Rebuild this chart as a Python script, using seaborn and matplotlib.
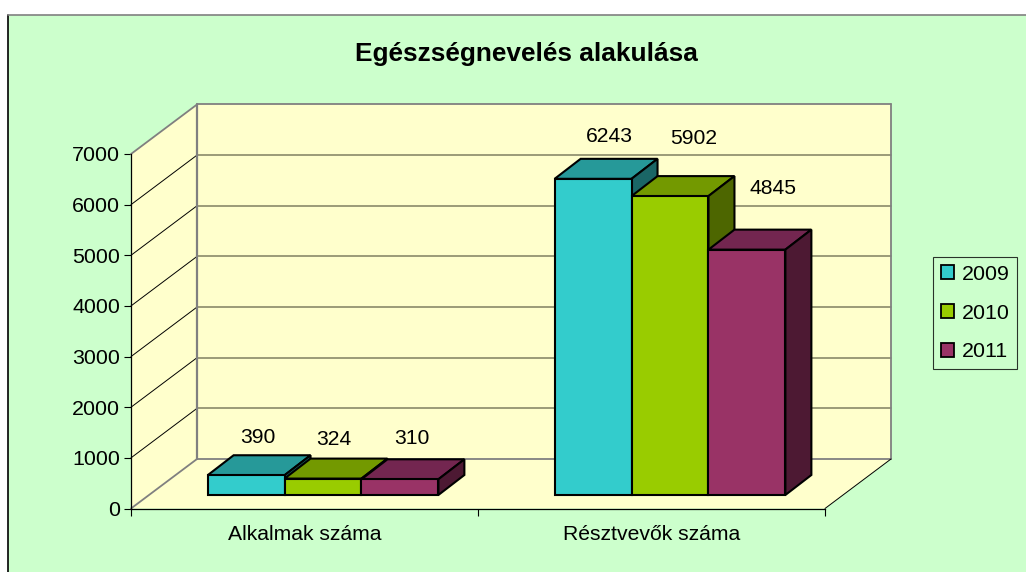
import numpy as np
import pandas as pd
import matplotlib
matplotlib.use('Agg')
import matplotlib.pyplot as plt
import matplotlib.transforms as mtransforms
from matplotlib.lines import Line2D
from matplotlib.patches import Patch, Polygon, Rectangle
import seaborn as sns

# adatok
categories = ['Alkalmak száma', 'Résztvevők száma']
years = ['2009', '2010', '2011']
values_2009 = [390, 6243]
values_2010 = [324, 5902]
values_2011 = [310, 4845]
y_ticks = [0, 1000, 2000, 3000, 4000, 5000, 6000, 7000]

front_colors = ['#33CCCC', '#99CC00', '#993366']
top_colors = ['#269999', '#739900', '#732650']
side_colors = ['#1A6666', '#4D6600', '#4D1933']

# eltolás a címke és az oszlop középpontja között, pixelben (x, y)
label_offsets = [[(12, 38), (11, 39), (12, 41)], [(16, 42), (24, 58), (26, 61)]]

W, H = 1026, 572
sns.set_theme(style='white')
plt.rcParams['font.family'] = ['Liberation Sans']
plt.rcParams['text.color'] = 'black'

df = pd.DataFrame({
    'category': categories * 3,
    'year': np.repeat(years, 2),
    'value': values_2009 + values_2010 + values_2011,
})

fig = plt.figure(figsize=(W / 100, H / 100), dpi=100, facecolor='white')
fig.add_artist(Rectangle((8 / W, 0), 1, 1 - 15 / H, transform=fig.transFigure,
                         facecolor='#CCFFCC', edgecolor='none', zorder=-5))
fig.add_artist(Line2D([8 / W, 8 / W], [0, 1 - 15 / H], color='black', lw=1.2))
fig.add_artist(Line2D([8 / W, 1], [1 - 15 / H, 1 - 15 / H], color='#808080', lw=1.2))

ax = fig.add_axes([131 / W, 1 - 508.5 / H, 694 / W, 354.5 / H])
ax.patch.set_visible(False)

sns.barplot(data=df, x='category', y='value', hue='year', palette=front_colors,
            width=0.665, gap=0, saturation=1, legend=False, ax=ax,
            edgecolor='black', linewidth=1.5)
ax.set_xlim(-0.5, 1.5)
ax.set_ylim(0, 7000)
fig.canvas.draw()


def px(x, y, dx=0, dy=0):
    # adatkoordináta -> kijelző pixel, térbeli eltolással
    p = ax.transData.transform((x, y))
    return p[0] + dx, p[1] + dy


def poly(points, **kw):
    ax.add_patch(Polygon(points, closed=True, transform=mtransforms.IdentityTransform(),
                         clip_on=False, **kw))


def line(a, b, color, lw, z=1):
    ax.add_line(Line2D([a[0], b[0]], [a[1], b[1]], color=color, lw=lw, zorder=z,
                       transform=mtransforms.IdentityTransform(), clip_on=False))


# falak és padló
DX, DY = 66, 49.5
wall = '#FFFFCC'
x0, x1 = -0.5, 1.5
ymax = y_ticks[-1]
poly([px(x0, 0, DX, DY), px(x1, 0, DX, DY), px(x1, ymax, DX, DY), px(x0, ymax, DX, DY)],
     facecolor=wall, edgecolor='none', zorder=0.5)
poly([px(x0, 0), px(x0, 0, DX, DY), px(x0, ymax, DX, DY), px(x0, ymax)],
     facecolor=wall, edgecolor='none', zorder=0.5)
poly([px(x0, 0), px(x1, 0), px(x1, 0, DX, DY), px(x0, 0, DX, DY)],
     facecolor=wall, edgecolor='none', zorder=0.5)

for t in y_ticks[1:-1]:
    line(px(x0, t), px(x0, t, DX, DY), 'black', 0.7)
    line(px(x0, t, DX, DY), px(x1, t, DX, DY), '#808060', 1.1)
line(px(x0, 0, DX, DY), px(x1, 0, DX, DY), '#808080', 1.3)
line(px(x0, ymax, DX, DY), px(x1, ymax, DX, DY), '#808080', 1.3)
line(px(x0, 0), px(x0, 0, DX, DY), '#808080', 1.3)
line(px(x0, ymax), px(x0, ymax, DX, DY), '#808080', 1.3)
line(px(x0, 0, DX, DY), px(x0, ymax, DX, DY), '#808080', 1.6)
line(px(x1, 0, DX, DY), px(x1, ymax, DX, DY), '#808080', 1.3)
line(px(x1, 0), px(x1, 0, DX, DY), 'black', 0.7)

# oszlopok: az elülső lap a térben beljebb áll, oldal- és fedőlap hozzá
BAR_X, BAR_Y = 18.5, 13.5
BAR_DX, BAR_DY = 26, 20
shift = mtransforms.offset_copy(ax.transData, fig=fig, x=BAR_X, y=BAR_Y, units='dots')
for i, cont in enumerate(ax.containers):
    for j, bar in enumerate(cont.patches):
        left, right = bar.get_x(), bar.get_x() + bar.get_width()
        top = bar.get_height()
        bar.set_transform(shift)
        bar.set_clip_on(False)
        bar.set_zorder(3 + 2 * i + 1)
        ox, oy = BAR_X + BAR_DX, BAR_Y + BAR_DY
        poly([px(left, top, BAR_X, BAR_Y), px(right, top, BAR_X, BAR_Y),
              px(right, top, ox, oy), px(left, top, ox, oy)],
             facecolor=top_colors[i], edgecolor='black', lw=1.5, zorder=3 + 2 * i,
             joinstyle='miter')
        poly([px(right, 0, BAR_X, BAR_Y), px(right, 0, ox, oy),
              px(right, top, ox, oy), px(right, top, BAR_X, BAR_Y)],
             facecolor=side_colors[i], edgecolor='black', lw=1.5, zorder=3 + 2 * i,
             joinstyle='miter')
        off = label_offsets[j][i]
        cx = (left + right) / 2
        p = px(cx, top, BAR_X + off[0], BAR_Y + off[1])
        ax.text(p[0], p[1], str(int(top)), transform=mtransforms.IdentityTransform(),
                ha='center', va='center', fontsize=15.2, zorder=20, clip_on=False)

# tengelyek
sns.despine(ax=ax, top=True, right=True)
for s in ['left', 'bottom']:
    ax.spines[s].set_color('black')
    ax.spines[s].set_linewidth(0.9)
ax.set_xlabel('')
ax.set_ylabel('')
ax.set_yticks(y_ticks)
ax.set_xticks([-0.5, 0.5, 1.5])
ax.set_xticklabels([])
ax.set_xticks([0, 1], labels=categories, minor=True)
ax.tick_params(axis='y', which='major', left=True, length=5, width=0.8, color='black',
               labelsize=15.4, pad=3, labelcolor='black')
ax.tick_params(axis='x', which='major', bottom=True, length=5, width=0.8, color='black')
ax.tick_params(axis='x', which='minor', bottom=False, length=0, labelsize=15.2,
               pad=12, labelcolor='black')

fig.text(526 / W, 1 - 54 / H, 'Egészségnevelés alakulása', ha='center', va='center',
         fontsize=18.9, fontweight='bold', color='black')

handles = [Patch(facecolor=c, edgecolor='black', linewidth=1.3) for c in front_colors]
leg = ax.legend(handles, years, loc='upper left', bbox_to_anchor=(933 / W, 1 - 257 / H),
                bbox_transform=fig.transFigure, borderaxespad=0, fontsize=15.4,
                fancybox=False, frameon=True, edgecolor='black', facecolor='none',
                framealpha=None, handlelength=0.6, handleheight=0.6, handletextpad=0.37,
                labelspacing=0.93, borderpad=0.36, labelcolor='black')
leg.get_frame().set_linewidth(0.8)

fig.savefig('out.png', dpi=100)
